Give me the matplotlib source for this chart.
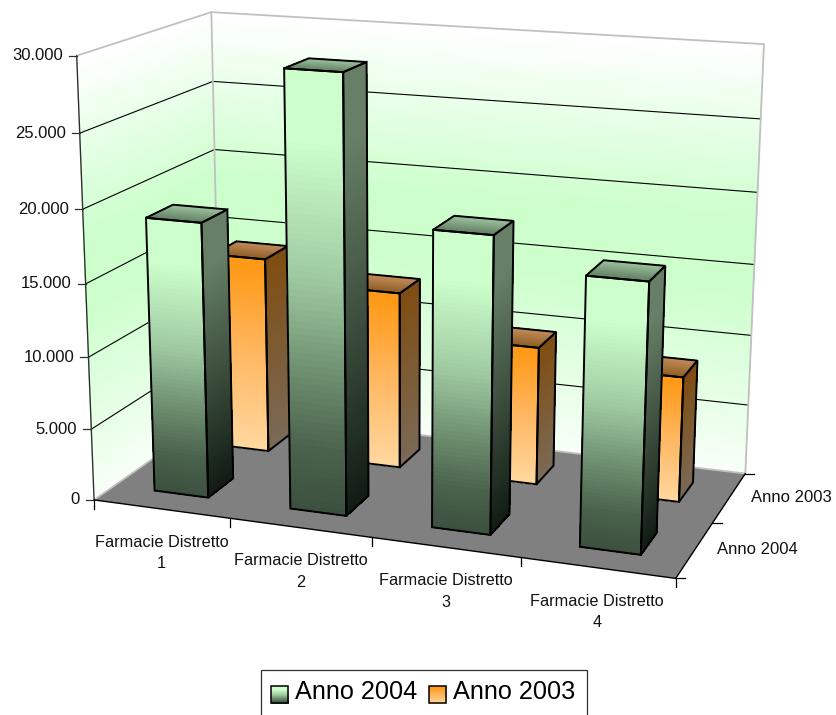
"""3D column chart (Excel style) drawn with a fitted perspective projection."""
import matplotlib

matplotlib.use("Agg")
import matplotlib.pyplot as plt
import numpy as np
from matplotlib.collections import PolyCollection
from matplotlib.colors import to_rgb
from matplotlib.patches import Polygon, Rectangle

plt.rcParams["font.family"] = ["Liberation Sans", "DejaVu Sans"]

CATEGORIES = ["Farmacie Distretto\n1", "Farmacie Distretto\n2", "Farmacie Distretto\n3", "Farmacie Distretto\n4"]
SERIES = ["Anno 2004", "Anno 2003"]
VALUES_2004 = [19000, 29500, 19900, 17850]
VALUES_2003 = [14100, 12600, 9750, 8750]
Y_TICKS = [0, 5000, 10000, 15000, 20000, 25000, 30000]

Y_MAX = 30000
BAR_GAP_X = 0.3
BAR_GAP_S = 0.3

# plot box corners seen in the picture: (category, series, value) -> pixel
BOX_WORLD = [(0, 0, 0), (0, 0, Y_MAX), (0, 2, 0), (0, 2, Y_MAX), (4, 2, 0), (4, 2, Y_MAX), (4, 0, 0)]
BOX_PIXELS = [(93.5, 500), (77, 56), (221, 411), (211, 12), (745, 474), (764, 44), (676, 578)]

FRONT_STOPS = {
    "Anno 2004": [(0, "#3b4f3e"), (0.15, "#4a624c"), (0.33, "#6e8f70"), (0.55, "#a0cba2"), (0.85, "#ccffcc"), (1, "#ccffcc")],
    "Anno 2003": [(0, "#ffd8a0"), (0.5, "#ffb863"), (0.95, "#ff9a18"), (1, "#ff9a18")],
}
SIDE_STOPS = {
    "Anno 2004": [(0, "#101a12"), (0.85, "#667f66"), (1, "#667f66")],
    "Anno 2003": [(0, "#7a6a58"), (1, "#7f4d10")],
}
TOP_STOPS = {
    "Anno 2004": [(0, "#5d7a5f"), (1, "#99bf9b")],
    "Anno 2003": [(0, "#8a5a20"), (1, "#c08a58")],
}
WALL_STOPS = [(0, "#f8fff8"), (0.45, "#ccffcc"), (0.6, "#ccffcc"), (1, "#ffffff")]


def fit_projection(world, pixels):
    """DLT: 3x4 matrix from point pairs, world axes scaled to 0..1."""
    rows = []
    for (x, s, z), (u, v) in zip(world, pixels):
        p = [x / 4, s / 2, z / Y_MAX, 1]
        rows.append(p + [0, 0, 0, 0] + [-u * c for c in p])
        rows.append([0, 0, 0, 0] + p + [-v * c for c in p])
    _, _, vt = np.linalg.svd(np.array(rows))
    return vt[-1].reshape(3, 4)


MATRIX = fit_projection(BOX_WORLD, BOX_PIXELS)


def project(x, s, z):
    u, v, w = MATRIX @ np.array([x / 4, s / 2, z / Y_MAX, 1])
    return u / w, v / w


def identity(x, y, _z=0):
    return x, y


def gradient_quad(ax, a, b, c, d, stops, to_px=project, n=70):
    """Quad a-b-c-d split in strips: a-b is the t=0 side, d-c the t=1 side."""
    a, b, c, d = map(np.array, (a, b, c, d))
    ts = np.linspace(0, 1, n + 1)
    positions = [pos for pos, _ in stops]
    colours = np.array([to_rgb(col) for _, col in stops])
    polys, faces = [], []
    for t0, t1 in zip(ts[:-1], ts[1:]):
        corners = [a + (d - a) * t0, b + (c - b) * t0, b + (c - b) * t1, a + (d - a) * t1]
        polys.append([to_px(*p) for p in corners])
        mid = (t0 + t1) / 2
        faces.append([np.interp(mid, positions, colours[:, i]) for i in range(3)])
    ax.add_collection(PolyCollection(polys, facecolors=faces, edgecolors=faces, linewidths=0.5,
                                     antialiaseds=False, zorder=2))


def outline(ax, corners, lw=1.4):
    ax.add_patch(Polygon([project(*p) for p in corners], closed=True, fill=False, edgecolor="black", lw=lw, zorder=2))


def draw_line(ax, p0, p1, color="black", lw=0.9):
    (u0, v0), (u1, v1) = project(*p0), project(*p1)
    ax.plot([u0, u1], [v0, v1], color=color, lw=lw, zorder=2, solid_capstyle="round")


def draw_walls(ax):
    gradient_quad(ax, (0, 0, 0), (0, 2, 0), (0, 2, Y_MAX), (0, 0, Y_MAX), WALL_STOPS)
    gradient_quad(ax, (0, 2, 0), (4, 2, 0), (4, 2, Y_MAX), (0, 2, Y_MAX), WALL_STOPS)
    for tick in Y_TICKS[1:-1]:
        draw_line(ax, (0, 0, tick), (0, 2, tick), lw=0.8)
        draw_line(ax, (0, 2, tick), (4, 2, tick), lw=0.8)
    for p0, p1 in [
        ((0, 0, Y_MAX), (0, 2, Y_MAX)),
        ((0, 2, Y_MAX), (4, 2, Y_MAX)),
        ((0, 2, 0), (0, 2, Y_MAX)),
        ((4, 2, 0), (4, 2, Y_MAX)),
    ]:
        draw_line(ax, p0, p1, color="#c0c0c0", lw=1.3)


def draw_floor(ax):
    corners = [(0, 0, 0), (4, 0, 0), (4, 2, 0), (0, 2, 0)]
    ax.add_patch(Polygon([project(*p) for p in corners], closed=True, facecolor="#808080", edgecolor="none", zorder=2))
    draw_line(ax, (0, 2, 0), (4, 2, 0), color="#c0c0c0", lw=1.3)
    draw_line(ax, (0, 0, 0), (0, 2, 0), color="#c0c0c0", lw=1.3)


def draw_axes(ax):
    draw_line(ax, (0, 0, 0), (0, 0, Y_MAX), color="#303030", lw=1.0)
    draw_line(ax, (0, 0, 0), (4, 0, 0), lw=1.0)
    draw_line(ax, (4, 0, 0), (4, 2, 0), lw=1.0)

    for tick in Y_TICKS:
        u, v = project(0, 0, tick)
        ax.plot([u - 8, u], [v, v], color="#303030", lw=0.9, zorder=2)
        ax.text(u - 14, v, f"{tick:,}".replace(",", "."), ha="right", va="center", fontsize=12, color="#111111")

    for i in range(len(CATEGORIES) + 1):
        u, v = project(i, 0, 0)
        ax.plot([u, u], [v, v + 9], color="black", lw=0.9, zorder=2)
    for i, label in enumerate(CATEGORIES):
        u, v = project(i + 0.5, 0, 0)
        ax.text(u, v + 44, label, ha="center", va="center", fontsize=11.7, linespacing=1.55, color="#111111")

    for s in range(len(SERIES) + 1):
        u, v = project(4, s, 0)
        ax.plot([u, u + 9], [v, v], color="black", lw=0.9, zorder=2)
    for s, label in enumerate(SERIES):
        u, v = project(4, s + 0.5, 0)
        ax.text(u + 22, v, label, ha="left", va="center", fontsize=12, color="#111111")


def draw_bar(ax, cat, row, value, name):
    x0, x1 = cat + BAR_GAP_X, cat + 1 - BAR_GAP_X
    s0, s1 = row + BAR_GAP_S, row + 1 - BAR_GAP_S

    gradient_quad(ax, (x0, s0, 0), (x1, s0, 0), (x1, s0, value), (x0, s0, value), FRONT_STOPS[name])
    gradient_quad(ax, (x1, s0, 0), (x1, s1, 0), (x1, s1, value), (x1, s0, value), SIDE_STOPS[name])
    gradient_quad(ax, (x0, s0, value), (x1, s0, value), (x1, s1, value), (x0, s1, value), TOP_STOPS[name])

    outline(ax, [(x0, s0, 0), (x1, s0, 0), (x1, s0, value), (x0, s0, value)])
    outline(ax, [(x1, s0, 0), (x1, s1, 0), (x1, s1, value), (x1, s0, value)])
    outline(ax, [(x0, s0, value), (x1, s0, value), (x1, s1, value), (x0, s1, value)])


def draw_legend(ax):
    ax.add_patch(Rectangle((261, 670), 326, 60, facecolor="white", edgecolor="#303030", lw=0.9, zorder=2))
    for name, left in zip(SERIES, (271, 429)):
        gradient_quad(ax, (left, 703), (left + 17, 703), (left + 17, 686), (left, 686), FRONT_STOPS[name], to_px=identity, n=17)
        ax.add_patch(Rectangle((left, 686), 17, 17, fill=False, edgecolor="black", lw=1.1, zorder=2))
        ax.text(left + 24, 692, name, ha="left", va="center", fontsize=18.2, color="black")


def main():
    fig = plt.figure(figsize=(8.36, 7.15), dpi=100)
    ax = fig.add_axes([0, 0, 1, 1])
    ax.set_xlim(0, 836)
    ax.set_ylim(715, 0)
    ax.axis("off")

    draw_walls(ax)
    draw_floor(ax)
    draw_axes(ax)

    # back row first, left to right: the right sides are the visible ones
    for cat, value in enumerate(VALUES_2003):
        draw_bar(ax, cat, 1, value, "Anno 2003")
    for cat, value in enumerate(VALUES_2004):
        draw_bar(ax, cat, 0, value, "Anno 2004")

    draw_legend(ax)
    fig.savefig("out.png", dpi=100)
    plt.close(fig)


if __name__ == "__main__":
    main()
